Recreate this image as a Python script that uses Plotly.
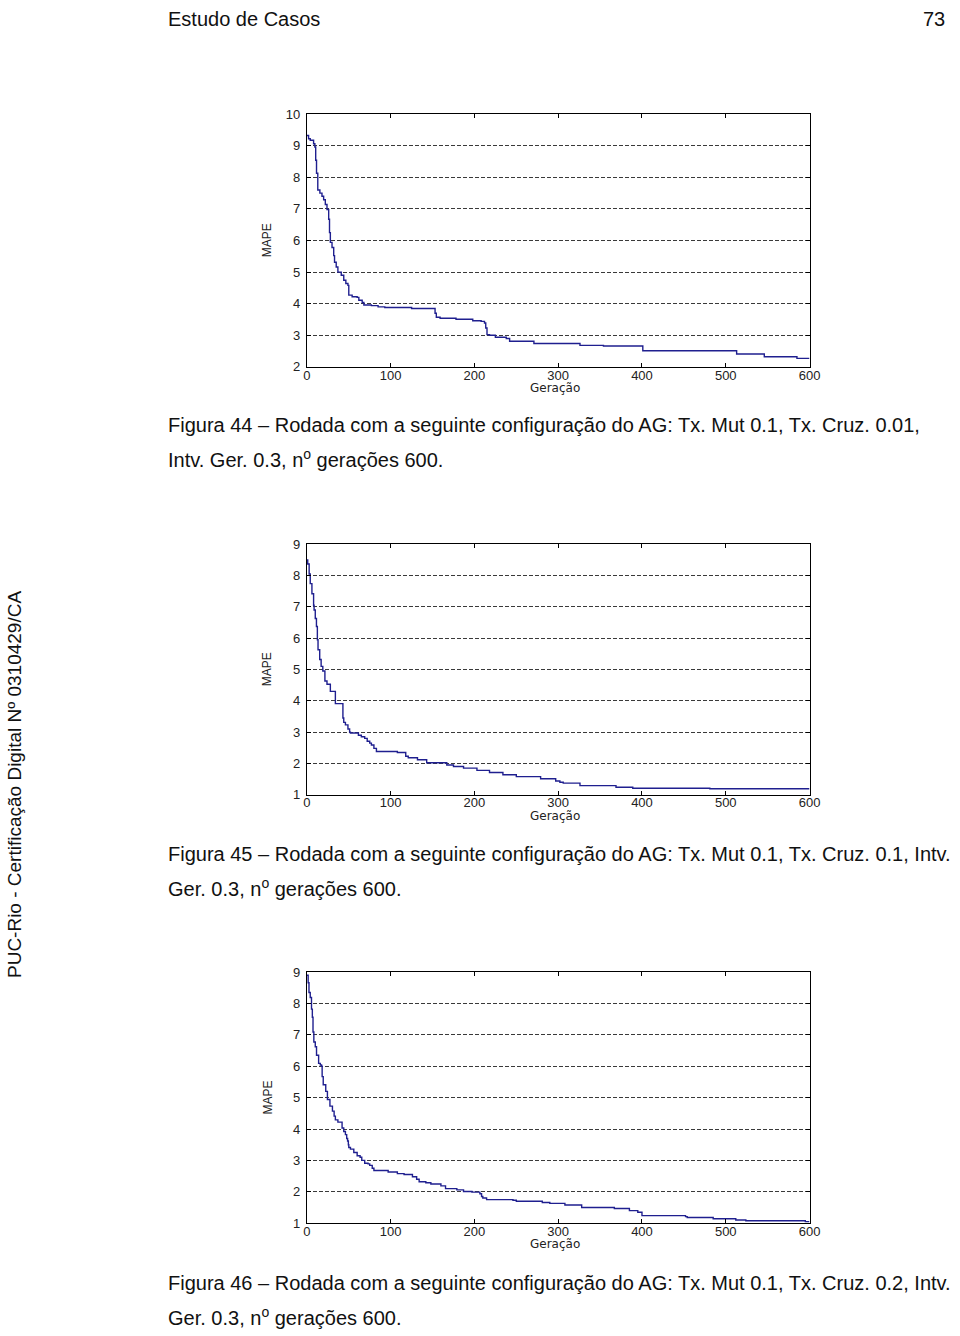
import plotly.graph_objects as go

W, H = 960, 1336

# ---------------- data ----------------
gen1 = [0, 2, 4, 8, 9.5, 10.5, 11.5, 13, 15.5, 18, 20, 22, 24, 26, 27, 28, 30, 32, 33, 35,
        37, 41, 44, 46.5, 49, 50, 54, 60, 62, 66, 68, 77, 85, 93, 125, 153, 154.5, 159, 178,
        198, 208, 212, 213.5, 215, 218, 225, 238, 242, 271, 326, 354, 401, 513, 546, 585, 600]
mape1 = [9.32, 9.22, 9.17, 9.06, 8.96, 8.54, 8.13, 7.6, 7.5, 7.4, 7.29, 7.14, 6.98, 6.67, 6.25,
         5.94, 5.78, 5.52, 5.31, 5.16, 5.0, 4.9, 4.74, 4.64, 4.58, 4.27, 4.22, 4.2, 4.11, 4.04,
         3.96, 3.94, 3.9, 3.88, 3.85, 3.7, 3.57, 3.54, 3.51, 3.46, 3.44, 3.39, 3.23, 3.02, 3.0,
         2.94, 2.9, 2.81, 2.74, 2.68, 2.66, 2.51, 2.41, 2.32, 2.27, 2.27]

gen2 = [0, 1, 2.7, 4, 6, 8, 8.6, 10, 11.4, 12.5, 13.3, 15.3, 17, 19, 21.5, 24, 28, 34, 43, 44,
        46, 49, 51, 52, 61.5, 65, 69, 72, 75, 77, 80, 83, 108, 118, 121, 132, 143, 167, 175,
        187, 203, 218, 234, 250, 279, 297, 302, 306, 326, 369, 389, 481, 600]
mape2 = [8.5, 8.37, 8.05, 7.74, 7.42, 7.05, 6.9, 6.63, 6.37, 5.95, 5.63, 5.32, 5.1, 4.95, 4.63,
         4.53, 4.3, 3.91, 3.45, 3.31, 3.23, 3.1, 3.0, 2.97, 2.9, 2.85, 2.8, 2.71, 2.65, 2.59,
         2.48, 2.38, 2.35, 2.23, 2.18, 2.12, 2.02, 1.95, 1.9, 1.85, 1.78, 1.71, 1.64, 1.58,
         1.51, 1.44, 1.4, 1.37, 1.29, 1.24, 1.21, 1.19, 1.19]

gen3 = [0, 1.5, 2.5, 4, 5.5, 6.5, 7.3, 8.3, 10, 11.5, 14, 16, 17.5, 18.2, 19.5, 22.5, 24.5,
        27.5, 30.5, 32.5, 34, 37, 42, 44, 46, 47.5, 48.6, 49.5, 50, 52, 56, 60, 63.5, 65.5,
        69, 73, 75, 78, 80, 97, 108, 116, 126, 131, 134, 142, 148, 160, 165.5, 179, 187, 197,
        206.5, 208.5, 210, 214.5, 246, 250, 281, 290, 308, 328, 367, 385, 395, 400, 452, 454,
        485, 512, 524, 595, 600]
mape3 = [8.9, 8.66, 8.35, 8.19, 7.82, 7.56, 7.09, 6.77, 6.62, 6.35, 6.09, 6.04, 6.0, 5.67,
         5.41, 5.2, 4.94, 4.73, 4.57, 4.41, 4.29, 4.22, 4.03, 3.92, 3.82, 3.7, 3.62, 3.5, 3.41,
         3.36, 3.25, 3.15, 3.1, 3.0, 2.91, 2.89, 2.84, 2.75, 2.68, 2.63, 2.58, 2.55, 2.48, 2.4,
         2.32, 2.29, 2.25, 2.19, 2.1, 2.06, 2.01, 1.99, 1.94, 1.85, 1.8, 1.75, 1.73, 1.7, 1.66,
         1.63, 1.58, 1.5, 1.47, 1.4, 1.35, 1.24, 1.21, 1.18, 1.14, 1.1, 1.08, 1.05, 1.05]

x_ticks = [0, 100, 200, 300, 400, 500, 600]
y_ticks_1 = [2, 3, 4, 5, 6, 7, 8, 9, 10]
y_ticks_23 = [1, 2, 3, 4, 5, 6, 7, 8, 9]

header_left = "Estudo de Casos"
header_right = "73"
side_text = "PUC-Rio - Certificação Digital Nº 0310429/CA"
captions = [
    ("Figura 44 – Rodada com a seguinte configuração do AG: Tx. Mut 0.1, Tx. Cruz. 0.01,",
     "Intv. Ger. 0.3, n<sup>o</sup> gerações 600."),
    ("Figura 45 – Rodada com a seguinte configuração do AG: Tx. Mut 0.1, Tx. Cruz. 0.1, Intv.",
     "Ger. 0.3, n<sup>o</sup> gerações 600."),
    ("Figura 46 – Rodada com a seguinte configuração do AG: Tx. Mut 0.1, Tx. Cruz. 0.2, Intv.",
     "Ger. 0.3, n<sup>o</sup> gerações 600."),
]

# ---------------- layout helpers (page pixels -> paper) ----------------
def px(x):
    return x / W

def py(y):
    return 1 - y / H

panels = [
    dict(g=gen1, v=mape1, top=108.3, bot=364.0, yr=[2, 10], yt=y_ticks_1),
    dict(g=gen2, v=mape2, top=543.3, bot=796.7, yr=[1, 9], yt=y_ticks_23),
    dict(g=gen3, v=mape3, top=976.0, bot=1230.0, yr=[1, 9], yt=y_ticks_23),
]
X0, X1 = 307.7, 818.3
cap_y = [(423, 457), (857, 890), (1290, 1324)]

LINE = "#1f1f8f"
TICKFONT = dict(family="Liberation Sans, Arial, sans-serif", size=13, color="#222")
TEXTFONT = dict(family="Liberation Sans, Arial, sans-serif", size=20, color="#111")
SIDEFONT = dict(family="Liberation Sans, Arial, sans-serif", size=19, color="#111")

fig = go.Figure()
annotations = []
layout_axes = {}

for i, p in enumerate(panels):
    k = "" if i == 0 else str(i + 1)
    fig.add_trace(go.Scatter(
        x=p["g"], y=p["v"], mode="lines", line=dict(color=LINE, width=1.4, shape="hv"),
        xaxis="x" + k, yaxis="y" + k, showlegend=False, hoverinfo="skip"))
    layout_axes["xaxis" + k] = dict(
        domain=[px(X0), px(X1)], anchor="y" + k, range=[0, 600], tickvals=x_ticks,
        ticks="inside", ticklen=4, tickcolor="#000", showline=True, linecolor="#000",
        linewidth=1, mirror="ticks", showgrid=False, zeroline=False, tickfont=TICKFONT,
        ticklabelstandoff=-4, fixedrange=True)
    layout_axes["yaxis" + k] = dict(
        domain=[py(p["bot"]), py(p["top"])], anchor="x" + k, range=p["yr"], tickvals=p["yt"],
        ticks="inside", ticklen=4, tickcolor="#000", showline=True, linecolor="#000",
        linewidth=1, mirror="ticks", showgrid=True, gridcolor="#3a3a3a", gridwidth=1,
        griddash="4px,2px", zeroline=False, tickfont=TICKFONT, ticklabelstandoff=3,
        fixedrange=True)
    mid_y = (p["top"] + p["bot"]) / 2
    annotations.append(dict(
        text="MAPE", x=px(268), y=py(mid_y), xref="paper", yref="paper", textangle=-90,
        showarrow=False, xanchor="center", yanchor="middle",
        font=dict(family="Liberation Sans, Arial, sans-serif", size=12, color="#222")))
    annotations.append(dict(
        text="Geração", x=px(560), y=py(p["bot"] + 21), xref="paper", yref="paper",
        showarrow=False, xanchor="center", yanchor="middle",
        font=dict(family="DejaVu Sans, sans-serif", size=12, color="#222")))
    l1, l2 = captions[i]
    y1, y2 = cap_y[i]
    annotations.append(dict(text=l1, x=px(165), y=py(y1), xref="paper", yref="paper",
                            showarrow=False, xanchor="left", yanchor="middle", font=TEXTFONT))
    annotations.append(dict(text=l2, x=px(165), y=py(y2), xref="paper", yref="paper",
                            showarrow=False, xanchor="left", yanchor="middle", font=TEXTFONT))

annotations.append(dict(text=header_left, x=px(165), y=py(12), xref="paper", yref="paper",
                        showarrow=False, xanchor="left", yanchor="middle", font=TEXTFONT))
annotations.append(dict(text=header_right, x=px(958), y=py(12), xref="paper", yref="paper",
                        showarrow=False, xanchor="right", yanchor="middle", font=TEXTFONT))
annotations.append(dict(text=side_text, x=px(10), y=py(786), xref="paper", yref="paper",
                        showarrow=False, xanchor="center", yanchor="middle", textangle=-90,
                        font=SIDEFONT))

fig.update_layout(
    width=W, height=H, margin=dict(l=0, r=0, t=0, b=0, pad=0),
    paper_bgcolor="white", plot_bgcolor="white", annotations=annotations,
    **layout_axes)

fig.write_html("out.html", config={"displayModeBar": False})
